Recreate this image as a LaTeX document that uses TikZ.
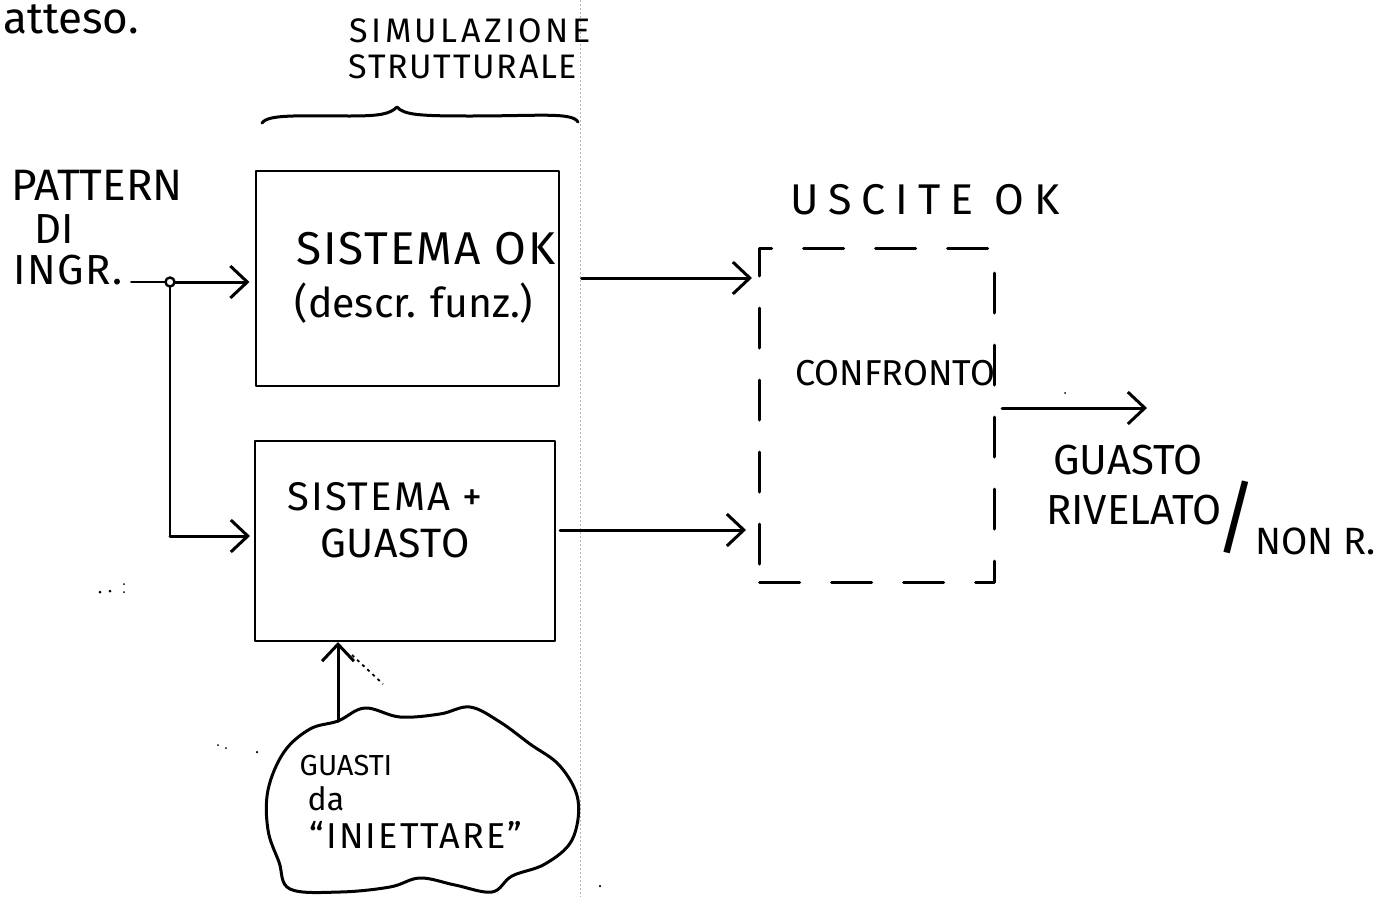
\documentclass[tikz,border=0pt]{standalone}
\usepackage{fontspec}
\setmainfont{Fira Sans}
\usetikzlibrary{arrows.meta}
\begin{document}
\begin{tikzpicture}[x=1pt,y=-1pt,
  pen/.style={line width=3pt,line cap=round,line join=round},
  thinpen/.style={line width=2pt,line cap=round,line join=round},
  arr/.style={pen,-{Straight Barb[length=17pt,width=32pt,line width=3pt]}},
  blk/.style={draw,thinpen,inner sep=0pt},
  lbl/.style={inner sep=0pt,font=\fontsize{#1}{#1}\selectfont},
  fold/.style={gray!60,line width=0.8pt,dash pattern=on 1.5pt off 2.5pt},
  speck/.style={fill=black,inner sep=0pt,minimum size=3pt,circle}]
\useasboundingbox (0,0) rectangle (1397,897);
\fill[white] (0,0) rectangle (1397,897);

% scan fold
\coordinate (foldtop) at (580,0);
\coordinate (foldbot) at (580,897);
\draw[fold] (foldtop) -- (foldbot);

% heading
\node[lbl=44,anchor=base west] (atteso) at (3,33) {atteso.};
\node[lbl=34] (sim) at (470,31) {\addfontfeature{LetterSpace=10}SIMULAZIONE};
\node[lbl=34] (strut) at (463,67) {\addfontfeature{LetterSpace=5}STRUTTURALE};

% brace
\coordinate (brL) at (262,123);
\coordinate (brP) at (397,107);
\coordinate (brR) at (578,122);
\draw[pen] (brL) .. controls (268,114) and (300,116) .. (350,116)
  .. controls (380,116) and (390,114) .. (brP)
  .. controls (404,115) and (420,116) .. (470,116)
  .. controls (540,116) and (572,112) .. (brR);

% blocks
\node[blk,minimum width=303pt,minimum height=215pt] (ok) at (407,278) {};
\node[blk,minimum width=300pt,minimum height=200pt] (fault) at (405,541) {};
\node[draw,pen,dash pattern=on 40pt off 32pt,inner sep=0pt,
      minimum width=235pt,minimum height=334pt] (cmp) at (877,415) {};

% block texts
\node[lbl=46] (okA) at (426,249) {\addfontfeature{LetterSpace=4}SISTEMA OK};
\node[lbl=41] (okB) at (414,303) {(descr. funz.)};
\node[lbl=40] (fA) at (385,497) {\addfontfeature{LetterSpace=5}SISTEMA +};
\node[lbl=41] (fB) at (395,543) {\addfontfeature{LetterSpace=2}GUASTO};
\node[lbl=36] (cmpT) at (895,373) {CONFRONTO};
\node[lbl=43] (usc) at (925,200) {\addfontfeature{LetterSpace=23}USCITE OK};

% input
\node[lbl=44] (patt) at (97,185) {PATTERN};
\node[lbl=42] (di) at (54,229) {DI};
\node[lbl=42] (ingr) at (68,270) {\addfontfeature{LetterSpace=4}INGR.};
\coordinate (jn) at (170,282);
\coordinate (jd) at (170,536);
\draw[thinpen] ([xshift=8pt]ingr.east |- jn) -- (jn);
\draw[arr] (jn) -- ([xshift=-5pt]ok.west |- jn);
\draw[thinpen] (jn) -- (jd);
\draw[arr] (jd) -- ([xshift=-4pt]fault.west |- jd);
\draw[line width=2.4pt,fill=white] (jn) circle (4.5pt);

% to comparison
\draw[arr] ([xshift=22pt]ok.east) -- ([xshift=-6pt]ok.east -| cmp.west);
\draw[arr] ([xshift=4pt,yshift=11pt]fault.east) -- ([xshift=-12pt,yshift=11pt]fault.east -| cmp.west);

% output
\draw[arr] ([xshift=6pt,yshift=7pt]cmp.east) -- ++(145,0) coordinate (outend);
\node[lbl=42] (gu) at (1128,460) {GUASTO};
\node[lbl=42,anchor=east] (riv) at (1222,510) {RIVELATO};
\node[lbl=80] (slash) at (1236,517) {/};
\node[lbl=38,anchor=west] (nonr) at (1255,541) {NON R.};

% cloud
\coordinate (cltop) at (338,721);
\draw[pen] plot[smooth cycle,tension=0.6] coordinates {
  (cltop) (365,708) (400,717) (440,714) (470,707) (500,722) (530,744)
  (560,766) (578,800) (572,840) (545,864) (512,876) (492,892) (455,885)
  (420,878) (390,887) (340,892) (290,889) (279,862) (268,830) (268,790)
  (284,752) (310,729)};
\node[lbl=29] (clA) at (346,765) {GUASTI};
\node[lbl=32] (clB) at (326,799) {da};
\node[lbl=36] (clC) at (416,835) {\addfontfeature{LetterSpace=6}“INIETTARE”};
\draw[arr] (cltop) -- (cltop |- fault.south) ;
\coordinate (dotA) at (352,655);
\coordinate (dotB) at (383,684);
\draw[line width=1.8pt,dash pattern=on 3pt off 4pt] (dotA) -- (dotB);

% specks
\node[speck] (s1) at (100,592) {};
\node[speck] (s2) at (110,591) {};
\node[speck,minimum size=2pt] (s3) at (124,584) {};
\node[speck,minimum size=2pt] (s4) at (124,592) {};
\node[speck,minimum size=2pt] (s5) at (218,745) {};
\node[speck,minimum size=2pt] (s6) at (226,748) {};
\node[speck,minimum size=2.5pt] (s7) at (257,752) {};
\node[speck,minimum size=2.5pt] (s8) at (600,886) {};
\node[speck,minimum size=2pt] (s9) at (1065,393) {};
\end{tikzpicture}
\end{document}
